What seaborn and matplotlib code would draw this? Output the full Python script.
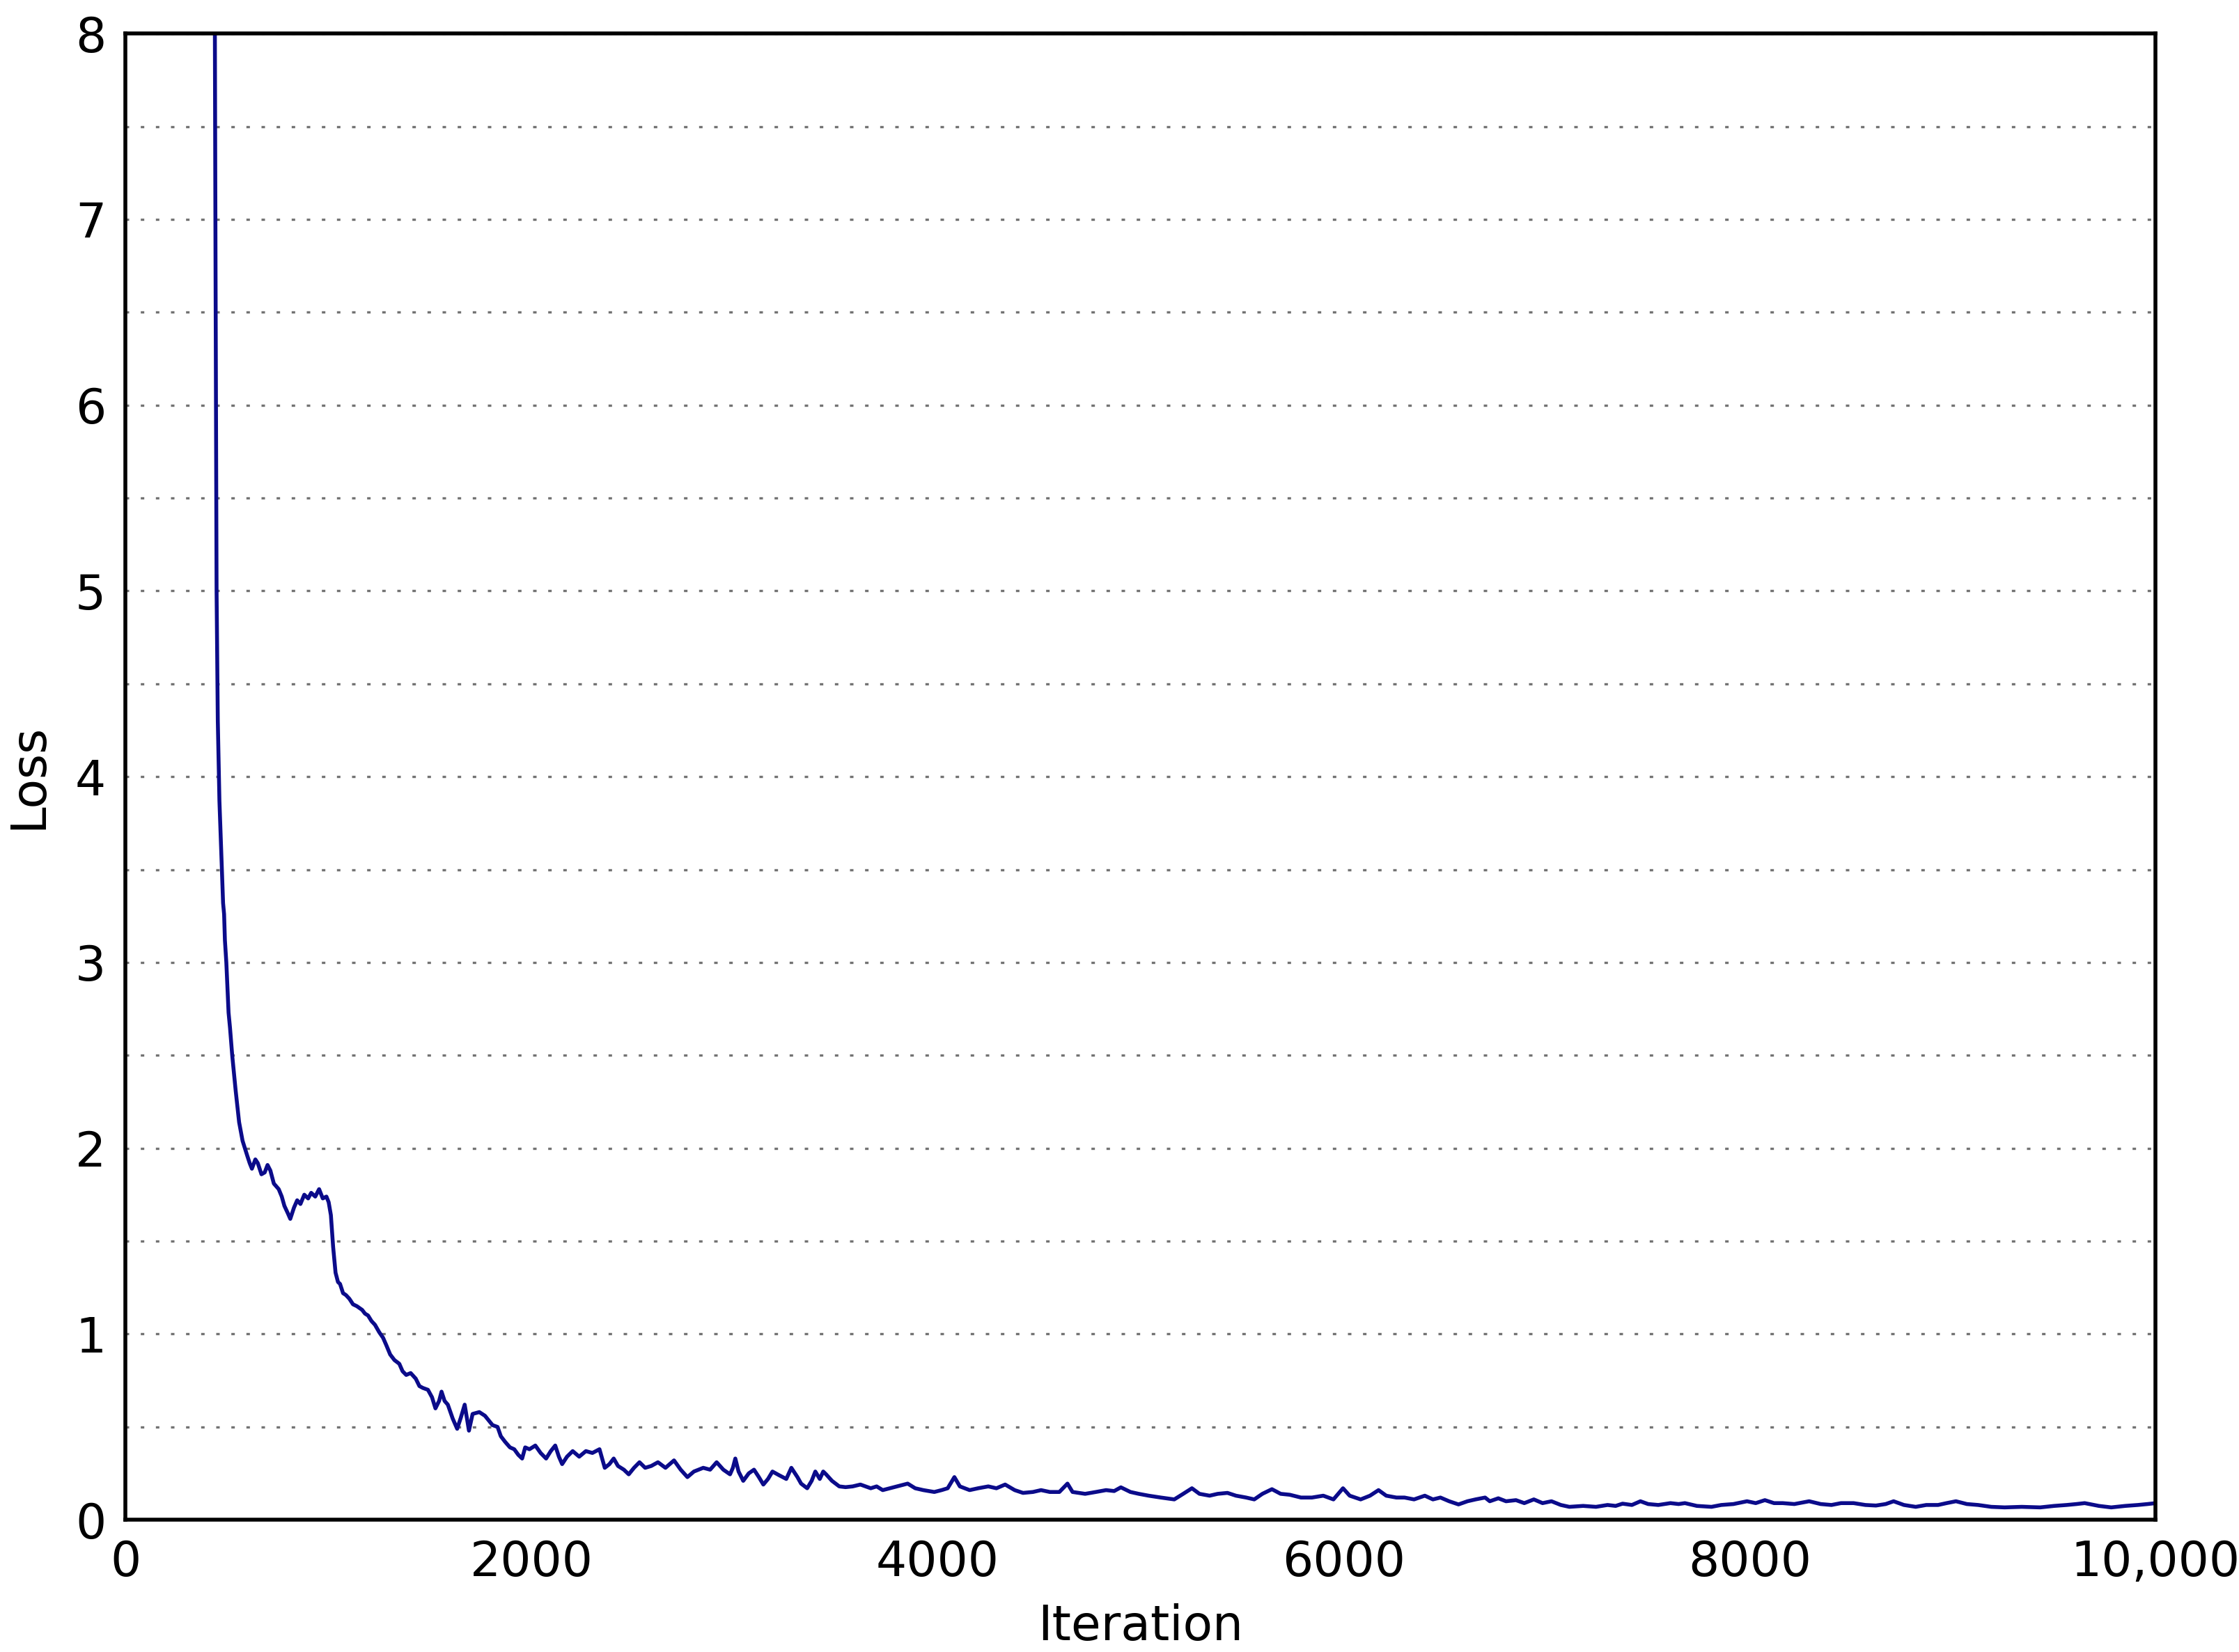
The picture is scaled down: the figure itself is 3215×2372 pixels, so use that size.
import matplotlib
matplotlib.use("Agg")
import matplotlib.pyplot as plt
from matplotlib.ticker import MultipleLocator
import pandas as pd
import seaborn as sns

iteraciones = [
    438, 444, 449, 455, 463, 475, 481, 486, 490, 497, 508, 515, 526, 543, 560,
    577, 600, 612, 623, 640, 652, 670, 686, 700, 714, 731, 755, 770, 783, 800,
    812, 830, 846, 862, 881, 900, 915, 935, 954, 972, 990, 1001, 1012, 1023,
    1035, 1047, 1057, 1072, 1086, 1103, 1121, 1140, 1166, 1180, 1195, 1212,
    1229, 1250, 1269, 1285, 1304, 1325, 1349, 1365, 1383, 1405, 1430, 1448,
    1465, 1490, 1510, 1527, 1545, 1557, 1572, 1588, 1612, 1634, 1652, 1671,
    1692, 1710, 1743, 1771, 1808, 1833, 1849, 1870, 1894, 1915, 1935, 1954,
    1969, 1990, 2019, 2045, 2072, 2095, 2117, 2135, 2151, 2175, 2203, 2235,
    2268, 2300, 2335, 2361, 2384, 2405, 2426, 2455, 2479, 2505, 2532, 2560,
    2590, 2623, 2660, 2702, 2735, 2768, 2800, 2846, 2880, 2912, 2945, 2978,
    2992, 3004, 3020, 3043, 3070, 3096, 3120, 3142, 3165, 3187, 3220, 3255,
    3280, 3310, 3328, 3358, 3380, 3398, 3420, 3437, 3451, 3480, 3516, 3547,
    3582, 3620, 3671, 3700, 3730, 3765, 3800, 3853, 3890, 3930, 3984, 4020,
    4050, 4083, 4110, 4158, 4200, 4250, 4290, 4333, 4380, 4421, 4470, 4510,
    4553, 4600, 4640, 4665, 4727, 4780, 4830, 4870, 4903, 4950, 4991, 5040,
    5100, 5166, 5210, 5253, 5290, 5340, 5380, 5428, 5470, 5520, 5560, 5600,
    5647, 5690, 5735, 5790, 5844, 5900, 5950, 5997, 6030, 6084, 6130, 6172,
    6210, 6260, 6300, 6347, 6400, 6440, 6477, 6520, 6566, 6610, 6650, 6697,
    6720, 6762, 6800, 6849, 6890, 6937, 6980, 7024, 7070, 7112, 7180, 7243,
    7300, 7340, 7374, 7420, 7462, 7500, 7550, 7610, 7650, 7681, 7740, 7812,
    7860, 7920, 7987, 8030, 8075, 8120, 8163, 8220, 8293, 8350, 8403, 8450,
    8512, 8570, 8622, 8670, 8709, 8760, 8818, 8870, 8928, 8970, 9016, 9070,
    9125, 9190, 9256, 9340, 9431, 9500, 9562, 9610, 9650, 9720, 9781, 9850,
    9912, 9960, 10000,
]

perdida = [
    9.0, 6.7, 5.0, 4.3, 3.87, 3.5, 3.32, 3.26, 3.12, 3.0, 2.73, 2.65, 2.5, 2.31,
    2.14, 2.04, 1.96, 1.92, 1.89, 1.94, 1.92, 1.86, 1.87, 1.91, 1.88, 1.81, 1.78,
    1.74, 1.69, 1.65, 1.62, 1.68, 1.72, 1.70, 1.75, 1.73, 1.76, 1.74, 1.78, 1.73,
    1.74, 1.71, 1.64, 1.47, 1.33, 1.28, 1.27, 1.22, 1.21, 1.19, 1.16, 1.15, 1.13,
    1.11, 1.10, 1.07, 1.05, 1.01, 0.98, 0.94, 0.89, 0.86, 0.84, 0.80, 0.78, 0.79,
    0.76, 0.72, 0.71, 0.70, 0.66, 0.60, 0.64, 0.69, 0.64, 0.62, 0.545, 0.49,
    0.55, 0.62, 0.48, 0.57, 0.58, 0.56, 0.51, 0.50, 0.45, 0.42, 0.39, 0.38,
    0.35, 0.33, 0.39, 0.38, 0.40, 0.36, 0.33, 0.37, 0.40, 0.34, 0.30, 0.34,
    0.37, 0.34, 0.37, 0.36, 0.38, 0.28, 0.30, 0.33, 0.29, 0.27, 0.245, 0.28,
    0.31, 0.28, 0.29, 0.31, 0.28, 0.32, 0.27, 0.23, 0.26, 0.28, 0.27, 0.31,
    0.27, 0.245, 0.28, 0.33, 0.26, 0.21, 0.25, 0.27, 0.23, 0.19, 0.22, 0.26,
    0.24, 0.22, 0.28, 0.23, 0.195, 0.17, 0.21, 0.26, 0.22, 0.26, 0.245, 0.21,
    0.18, 0.176, 0.18, 0.19, 0.17, 0.18, 0.16, 0.17, 0.18, 0.195, 0.17, 0.16,
    0.15, 0.16, 0.17, 0.23, 0.18, 0.16, 0.17, 0.18, 0.17, 0.19, 0.16, 0.145,
    0.15, 0.16, 0.15, 0.15, 0.195, 0.15, 0.14, 0.15, 0.16, 0.155, 0.175, 0.15,
    0.14, 0.13, 0.12, 0.11, 0.14, 0.17, 0.14, 0.13, 0.14, 0.145, 0.13, 0.12,
    0.11, 0.14, 0.165, 0.14, 0.135, 0.12, 0.12, 0.13, 0.11, 0.17, 0.13, 0.11,
    0.13, 0.16, 0.13, 0.12, 0.12, 0.11, 0.13, 0.11, 0.12, 0.10, 0.083, 0.10,
    0.11, 0.12, 0.10, 0.116, 0.10, 0.106, 0.09, 0.11, 0.09, 0.10, 0.08, 0.07,
    0.075, 0.07, 0.08, 0.075, 0.087, 0.08, 0.10, 0.085, 0.08, 0.09, 0.085,
    0.09, 0.075, 0.07, 0.08, 0.085, 0.10, 0.09, 0.106, 0.09, 0.09, 0.085, 0.10,
    0.085, 0.08, 0.09, 0.09, 0.08, 0.077, 0.085, 0.10, 0.08, 0.07, 0.08, 0.08,
    0.09, 0.10, 0.085, 0.08, 0.07, 0.067, 0.07, 0.067, 0.075, 0.08, 0.085, 0.09,
    0.075, 0.067, 0.075, 0.08, 0.085, 0.09,
]

ticks_x = [0, 2000, 4000, 6000, 8000, 10000]
etiquetas_x = ["0", "2000", "4000", "6000", "8000", "10,000"]
ticks_y = [0, 1, 2, 3, 4, 5, 6, 7, 8]

df = pd.DataFrame({"Iteration": iteraciones, "Loss": perdida})

# ---- Grafica ----------------------------------------------------------------

sns.set_style("white")
plt.rcParams["font.family"] = ["DejaVu Sans"]
plt.rcParams["text.color"] = "black"
plt.rcParams["axes.labelcolor"] = "black"
plt.rcParams["xtick.color"] = "black"
plt.rcParams["ytick.color"] = "black"

fig = plt.figure(figsize=(16.08, 11.86), dpi=200)
ax = fig.add_axes([0.056, 0.080, 0.9065, 0.8997])

sns.lineplot(data=df, x="Iteration", y="Loss", color="#0b0b8a", lw=2.0,
             estimator=None, sort=True, ax=ax)

ax.set_xlim(0, 10000)
ax.set_ylim(0, 8)
ax.set_xticks(ticks_x)
ax.set_xticklabels(etiquetas_x)
ax.set_yticks(ticks_y)
ax.yaxis.set_minor_locator(MultipleLocator(0.5))

ax.grid(False)
ax.grid(axis="y", which="both", color="0.45", lw=1.2, linestyle=(0, (1.5, 5)))
ax.set_axisbelow(True)

ax.tick_params(axis="both", which="major", direction="in", length=8, width=0.7,
               color="0.25", labelcolor="black", labelsize=25, pad=10,
               top=False, right=False)
ax.tick_params(axis="both", which="minor", length=0)

for lado in ["top", "right", "bottom", "left"]:
    ax.spines[lado].set_visible(True)
    ax.spines[lado].set_color("black")
    ax.spines[lado].set_linewidth(2.0)

ax.set_xlabel("Iteration", fontsize=25, labelpad=9)
ax.set_ylabel("Loss", fontsize=25, labelpad=12)

fig.savefig("out.png", dpi=200, facecolor="white")
